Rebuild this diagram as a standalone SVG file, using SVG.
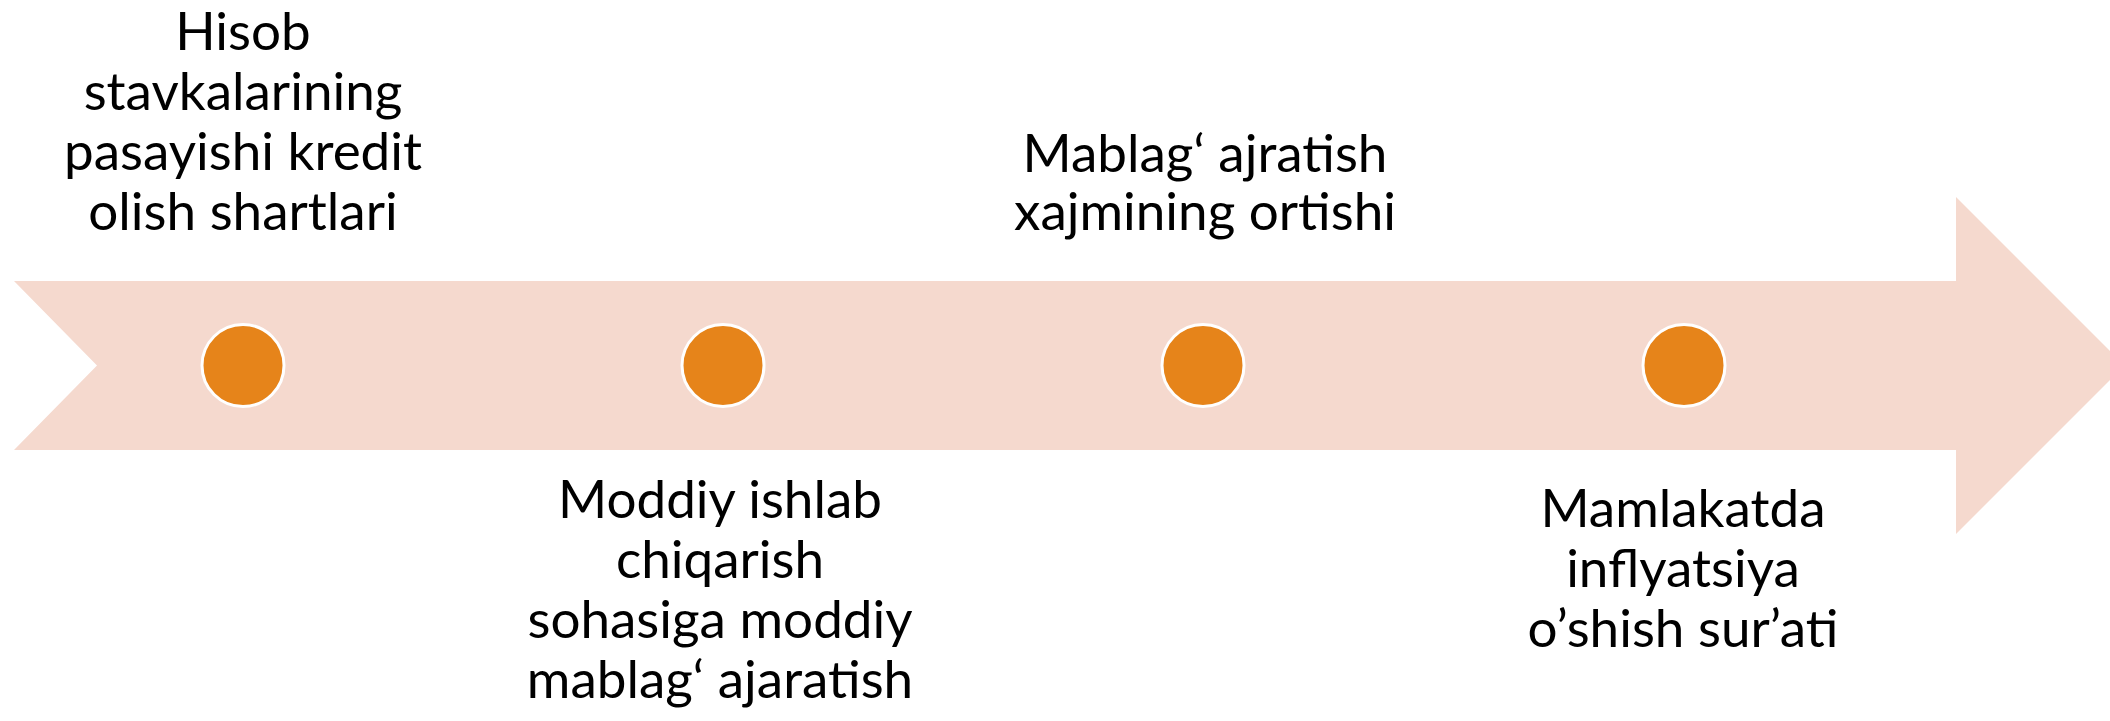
<svg xmlns="http://www.w3.org/2000/svg" width="2110" height="721" viewBox="0 0 2110 721">
<style>
.lbl{font-family:Lato,"Open Sans","Liberation Sans",sans-serif;font-size:53px;fill:#000;text-anchor:middle}
.dot{fill:#E6841A;stroke:#FFFFFF;stroke-width:3}
</style>
<rect width="2110" height="721" fill="#FFFFFF"/>
<g id="arrow">
<polygon points="14,281 1956,281 1956,197 2124.5,365.5 1956,534 1956,450 14,450 97,365.5" fill="#F5D9CE"/>
</g>
<g id="connectors"></g>
<g id="node1">
<circle class="dot" cx="243" cy="365.5" r="41"/>
<text class="lbl"><tspan x="243" y="50">Hisob</tspan><tspan x="243" y="110">stavkalarining</tspan><tspan x="243" y="170">pasayishi kredit</tspan><tspan x="243" y="230">olish shartlari</tspan></text>
</g>
<g id="node2">
<circle class="dot" cx="723" cy="365.5" r="41"/>
<text class="lbl"><tspan x="720" y="518">Moddiy ishlab</tspan><tspan x="720" y="578">chiqarish</tspan><tspan x="720" y="638">sohasiga moddiy</tspan><tspan x="720" y="698">mablag‘ ajaratish</tspan></text>
</g>
<g id="node3">
<circle class="dot" cx="1203" cy="365.5" r="41"/>
<text class="lbl"><tspan x="1205" y="172">Mablag‘ ajratish</tspan><tspan x="1205" y="230">xajmining ortishi</tspan></text>
</g>
<g id="node4">
<circle class="dot" cx="1684" cy="365.5" r="41"/>
<text class="lbl"><tspan x="1683" y="527">Mamlakatda</tspan><tspan x="1683" y="587">inflyatsiya</tspan><tspan x="1683" y="647">o’shish sur’ati</tspan></text>
</g>
</svg>
